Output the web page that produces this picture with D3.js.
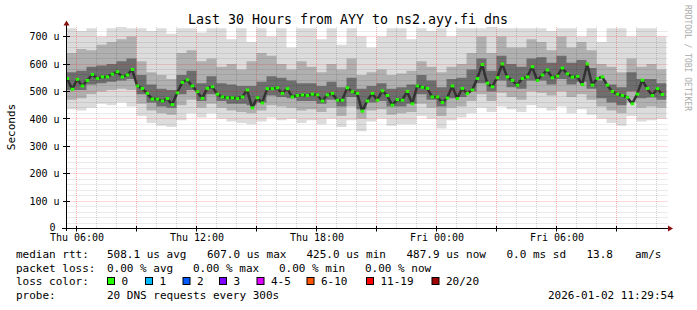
<!DOCTYPE html>
<html>
<head>
<meta charset="utf-8">
<script src="https://cdn.jsdelivr.net/npm/d3@7"></script>
<style>
  body { margin: 0; background: #fff; }
  text { font-family: "DejaVu Sans Mono", monospace; fill: #000; }
</style>
</head>
<body>
<svg class="container"></svg>
<script>
// median rtt, one value every 15 min (microseconds)
const medianValues = [
  547, 508, 544, 520, 540, 562, 547, 553, 553, 563, 572, 553, 560, 580, 520, 511,
  493, 472, 472, 465, 474, 452, 495, 533, 542, 520, 499, 475, 511, 517, 490,
  480, 477, 477, 474, 480, 505, 440, 477, 458, 510, 510, 513, 493, 510, 480,
  485, 487, 485, 490, 487, 465, 487, 493, 468, 468, 513, 499, 493, 428, 465,
  493, 468, 502, 485, 450, 470, 468, 500, 455, 520, 515, 511, 480, 480, 460,
  476, 520, 474, 511, 492, 505, 547, 598, 530, 517, 550, 600, 553, 540, 523,
  547, 553, 590, 540, 560, 578, 550, 556, 585, 564, 552, 555, 525, 600, 523,
  547, 553, 523, 500, 490, 485, 479, 455, 490, 541, 511, 485, 510, 489
];

// smoke bands, one value every 30 min
const smokeMax = [
  730, 720, 730, 700, 730, 735, 730, 730, 720, 730, 710, 730, 730, 715, 730,
  730, 690, 730, 680, 730, 700, 730, 660, 730, 730, 690, 730, 670, 730, 700,
  660, 700, 730, 730, 690, 730, 720, 730, 700, 730, 730, 730, 735, 730, 730,
  730, 730, 730, 720, 730, 730, 700, 730, 680, 730, 730, 700, 730, 730, 700
];
const smokeHi = [
  640, 655, 650, 670, 680, 690, 700, 610, 570, 560, 545, 640, 650, 610, 620,
  590, 600, 580, 610, 640, 630, 600, 580, 610, 590, 570, 600, 580, 620, 560,
  570, 580, 560, 565, 575, 610, 590, 570, 590, 600, 640, 700, 640, 700, 660,
  660, 690, 680, 650, 700, 660, 680, 650, 600, 590, 570, 620, 590, 600, 580
];
const smokeDarkHi = [
  570, 575, 590, 595, 600, 610, 620, 560, 525, 510, 505, 560, 575, 530, 555,
  530, 525, 520, 520, 535, 555, 550, 540, 530, 530, 520, 535, 515, 550, 510,
  520, 530, 510, 515, 525, 560, 540, 515, 545, 550, 580, 620, 575, 630, 600,
  590, 620, 625, 605, 630, 605, 615, 585, 540, 525, 515, 570, 545, 545, 530
];
const smokeDarkLo = [
  505, 505, 525, 530, 535, 540, 545, 490, 460, 445, 440, 490, 505, 465, 490,
  465, 455, 455, 450, 460, 485, 480, 475, 465, 465, 455, 470, 445, 480, 435,
  460, 465, 445, 445, 455, 490, 470, 445, 475, 480, 500, 530, 500, 540, 515,
  510, 540, 540, 525, 545, 525, 535, 510, 475, 460, 450, 500, 475, 478, 470
];
const smokeLo = [
  470, 475, 490, 500, 505, 510, 505, 455, 430, 420, 415, 450, 470, 440, 455,
  440, 430, 425, 420, 430, 450, 445, 440, 430, 435, 425, 440, 410, 445, 400,
  430, 435, 415, 420, 425, 455, 440, 410, 440, 445, 465, 490, 465, 495, 480,
  470, 500, 495, 485, 500, 480, 490, 470, 445, 430, 420, 460, 440, 445, 440
];
const smokeMin = [
  435, 430, 440, 455, 450, 460, 445, 410, 385, 375, 370, 395, 420, 405, 420,
  400, 390, 385, 380, 390, 405, 395, 400, 385, 395, 380, 400, 370, 395, 355,
  390, 400, 375, 380, 380, 410, 400, 365, 395, 405, 420, 440, 425, 445, 435,
  425, 450, 440, 430, 445, 420, 435, 415, 400, 385, 375, 410, 390, 395, 400
];

const yTicks = [0, 100, 200, 300, 400, 500, 600, 700];
const yTickLabels = ["0", "100 u", "200 u", "300 u", "400 u", "500 u", "600 u", "700 u"];
const xTickLabels = ["Thu 06:00", "Thu 12:00", "Thu 18:00", "Fri 00:00", "Fri 06:00"];

const statLabels = ["median rtt:", "packet loss:", "loss color:", "probe:"];
const rttStats = ["508.1 us avg", "607.0 us max", "425.0 us min", "487.9 us now", "0.0 ms sd", "13.8", "am/s"];
const lossStats = ["0.00 % avg", "0.00 % max", "0.00 % min", "0.00 % now"];
const lossLabels = ["0", "1", "2", "3", "4-5", "6-10", "11-19", "20/20"];
const lossColors = ["#26ff00", "#00b8ff", "#0059ff", "#7e00ff", "#dd00ff", "#ff5500", "#ff0000", "#a10000"];
const probeText = "20 DNS requests every 300s";
const stampText = "2026-01-02 11:29:54";

const width = 697;
const height = 310;
const svg = d3.select(".container").attr("width", width).attr("height", height);

const start = new Date(2026, 0, 1, 5, 30);
const end = new Date(2026, 0, 2, 11, 30);
const xScale = d3.scaleTime().domain([start, end]).range([66.5, 666.5]);
const yScale = d3.scaleLinear().domain([0, 735]).range([228.5, 27]);
const plotTop = 27, plotBottom = 228.5, plotLeft = 66.5, plotRight = 668;

svg.append("defs").append("clipPath").attr("id", "plot")
  .append("rect").attr("x", plotLeft).attr("y", plotTop).attr("width", 600).attr("height", plotBottom - plotTop);

const plot = svg.append("g").attr("clip-path", "url(#plot)");

// smoke
const smokeTime = (j) => d3.timeMinute.offset(start, 30 * j);
const bands = [
  { hi: smokeMax, lo: smokeMin, color: "#dcdcdc" },
  { hi: smokeHi, lo: smokeLo, color: "#b0b0b0" },
  { hi: smokeDarkHi, lo: smokeDarkLo, color: "#6e6e6e" },
];
bands.forEach((b) => {
  const pts = b.hi.map((d, j) => ({ t: smokeTime(j), hi: d, lo: b.lo[j] }));
  pts.push({ t: smokeTime(b.hi.length), hi: b.hi[b.hi.length - 1], lo: b.lo[b.lo.length - 1] });
  const area = d3.area().curve(d3.curveStepAfter)
    .x((d) => xScale(d.t)).y0((d) => yScale(d.lo)).y1((d) => yScale(d.hi));
  plot.append("path").datum(pts).attr("d", area).attr("fill", b.color);
});

// grid (drawn over the smoke, like rrdtool)
const snap = (v) => Math.round(v - 0.5) + 0.5;
const hours = d3.timeHour.range(start, end);
const grid = svg.append("g").attr("stroke-dasharray", "1,1").attr("stroke-width", 1);
grid.selectAll(".vg").data(hours).enter().append("line")
  .attr("x1", (d) => snap(xScale(d))).attr("x2", (d) => snap(xScale(d)))
  .attr("y1", plotTop).attr("y2", plotBottom)
  .attr("stroke", (d) => d.getHours() % 3 === 0 ? "rgba(255,0,0,0.3)" : "rgba(0,0,0,0.16)");
grid.selectAll(".hg").data(d3.range(20, 735, 20)).enter().append("line")
  .attr("x1", plotLeft).attr("x2", plotRight)
  .attr("y1", (d) => snap(yScale(d))).attr("y2", (d) => snap(yScale(d)))
  .attr("stroke", (d) => d % 100 === 0 ? "rgba(255,0,0,0.3)" : "rgba(0,0,0,0.16)");

// median
const medTime = (i) => d3.timeMinute.offset(start, 15 * i + 2);
plot.append("path").datum(medianValues)
  .attr("d", d3.line().x((d, i) => xScale(medTime(i))).y((d) => yScale(d)))
  .attr("fill", "none").attr("stroke", "#333").attr("stroke-width", 2.5)
  .attr("stroke-linejoin", "round");
plot.append("g").selectAll("rect").data(medianValues).enter().append("rect")
  .attr("x", (d, i) => xScale(medTime(i)) - 1.5)
  .attr("y", (d) => yScale(d) - 1.5)
  .attr("width", 3.5).attr("height", 3)
  .attr("fill", lossColors[0]);

// axes lines and arrows
svg.append("line").attr("x1", 62).attr("x2", 669).attr("y1", plotBottom).attr("y2", plotBottom).attr("stroke", "#000");
svg.append("line").attr("x1", plotLeft).attr("x2", plotLeft).attr("y1", 231).attr("y2", 23).attr("stroke", "#000");
svg.append("path").attr("d", "M668,225.5L673,228.5L668,231.5Z").attr("fill", "#8b1010");
svg.append("path").attr("d", "M63.5,25.5L66.5,20.5L69.5,25.5Z").attr("fill", "#8b1010");
svg.append("g").selectAll("line").data(yTicks.slice(1)).enter().append("line")
  .attr("x1", 63).attr("x2", 70)
  .attr("y1", (d) => snap(yScale(d))).attr("y2", (d) => snap(yScale(d)))
  .attr("stroke", "#000");
svg.append("g").selectAll("line").data(hours.filter((d) => d.getHours() % 3 === 0)).enter().append("line")
  .attr("x1", (d) => snap(xScale(d))).attr("x2", (d) => snap(xScale(d)))
  .attr("y1", 226).attr("y2", 231.5)
  .attr("stroke", "#000");

// tick labels
const yAxis = d3.axisLeft(yScale).tickValues(yTicks)
  .tickFormat((d, i) => yTickLabels[i]).tickSize(0).tickPadding(0);
const gy = svg.append("g").attr("transform", "translate(59.5,0)").call(yAxis);
gy.select(".domain").remove();
gy.selectAll("text").style("font-family", "DejaVu Sans Mono").style("font-size", "10px")
  .attr("dx", (d) => d === 0 ? -4 : 0).attr("y", (d) => d === 0 ? -1 : 0);

const xTickTimes = hours.filter((d) => d.getHours() % 6 === 0);
const xAxis = d3.axisBottom(xScale).tickValues(xTickTimes)
  .tickFormat((d, i) => xTickLabels[i]).tickSize(0).tickPadding(0);
const gx = svg.append("g").attr("transform", "translate(0,234)").call(xAxis);
gx.select(".domain").remove();
gx.selectAll("text").style("font-family", "DejaVu Sans Mono").style("font-size", "10px");

// title, axis title, watermark
svg.append("text").attr("x", 348).attr("y", 24).attr("text-anchor", "middle")
  .style("font-size", "13.3px").text("Last 30 Hours from AYY to ns2.ayy.fi dns");
svg.append("text").attr("transform", "translate(15,127) rotate(-90)").attr("text-anchor", "middle")
  .style("font-size", "11px").text("Seconds");
svg.append("text").attr("transform", "translate(684.5,5) rotate(90)")
  .style("font-size", "8px").style("fill", "#aaaaaa").text("RRDTOOL / TOBI OETIKER");

// legend
const rowY = [258, 271.5, 285, 299];
const legend = svg.append("g").style("font-size", "11px");
legend.selectAll(".lab").data(statLabels).enter().append("text")
  .attr("x", 16).attr("y", (d, i) => rowY[i]).text((d) => d);

const rttX = [107, 207, 306.5, 406.5, 506.5, 586.5, 635];
legend.selectAll(".rtt").data(rttStats).enter().append("text")
  .attr("x", (d, i) => rttX[i]).attr("y", rowY[0]).text((d) => d);
legend.selectAll(".loss").data(lossStats).enter().append("text")
  .attr("x", (d, i) => 107 + 86 * i).attr("y", rowY[1]).text((d) => d);

const boxX = [107, 145, 182.5, 219, 256.5, 306.5, 366, 431.5];
const items = legend.selectAll(".lc").data(lossLabels).enter().append("g");
items.append("rect")
  .attr("x", (d, i) => boxX[i] + 0.5).attr("y", 277.5).attr("width", 7).attr("height", 7)
  .attr("fill", (d, i) => lossColors[i]).attr("stroke", "#000");
items.append("text")
  .attr("x", (d, i) => boxX[i] + 14.5).attr("y", rowY[2]).text((d) => d);

legend.append("text").attr("x", 107).attr("y", rowY[3]).text(probeText);
legend.append("text").attr("x", 548).attr("y", rowY[3]).text(stampText);
</script>
</body>
</html>
